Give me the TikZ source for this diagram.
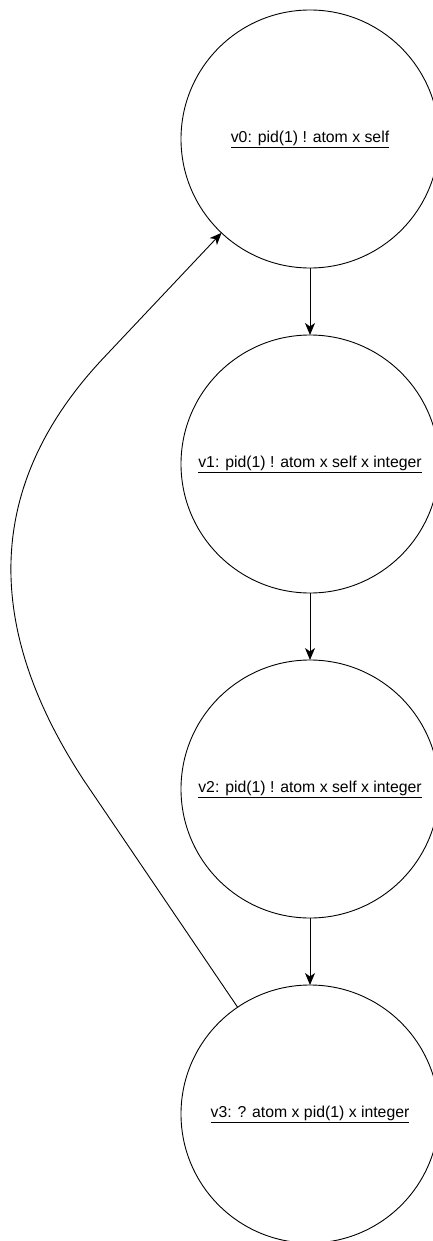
\documentclass[tikz,border=0pt]{standalone}
\usepackage{fontspec}
\setmainfont{Liberation Sans}
\usetikzlibrary{arrows.meta}
\tikzset{node distance=325pt, auto,
  state/.style={draw, circle, minimum size=258pt, inner sep=0pt, outer sep=0pt, line width=0.9pt,
    font=\fontsize{15.8}{18}\selectfont},
  edge/.style={line width=0.9pt, -{Stealth[length=12pt,width=10pt,inset=3.5pt]}}}

\begin{document}
\begin{tikzpicture}[x=1pt,y=-1pt]
                \useasboundingbox (0,0) rectangle (433,1241);
                \node (v0) [state] at (310,139) {\underline{v0: pid(1) ! atom x self}};
                \node (v1) [state, below of=v0] {\underline{v1: pid(1) ! atom x self x integer}};
                \node (v2) [state, below of=v1] {\underline{v2: pid(1) ! atom x self x integer}};
                \node (v3) [state, below of=v2] {\underline{v3: ? atom x pid(1) x integer}};
                \coordinate (a) at (83.6,780);
                \coordinate (b) at (101.6,360);
                \draw[edge] (v0) to node {} (v1);
                \draw[edge] (v1) to node {} (v2);
                \draw[edge] (v2) to node {} (v3);
                \draw[edge] (v3) -- (a) .. controls (-19,623.3) and (-13,483.3) .. (b) -- (v0);
              \end{tikzpicture}
\end{document}
